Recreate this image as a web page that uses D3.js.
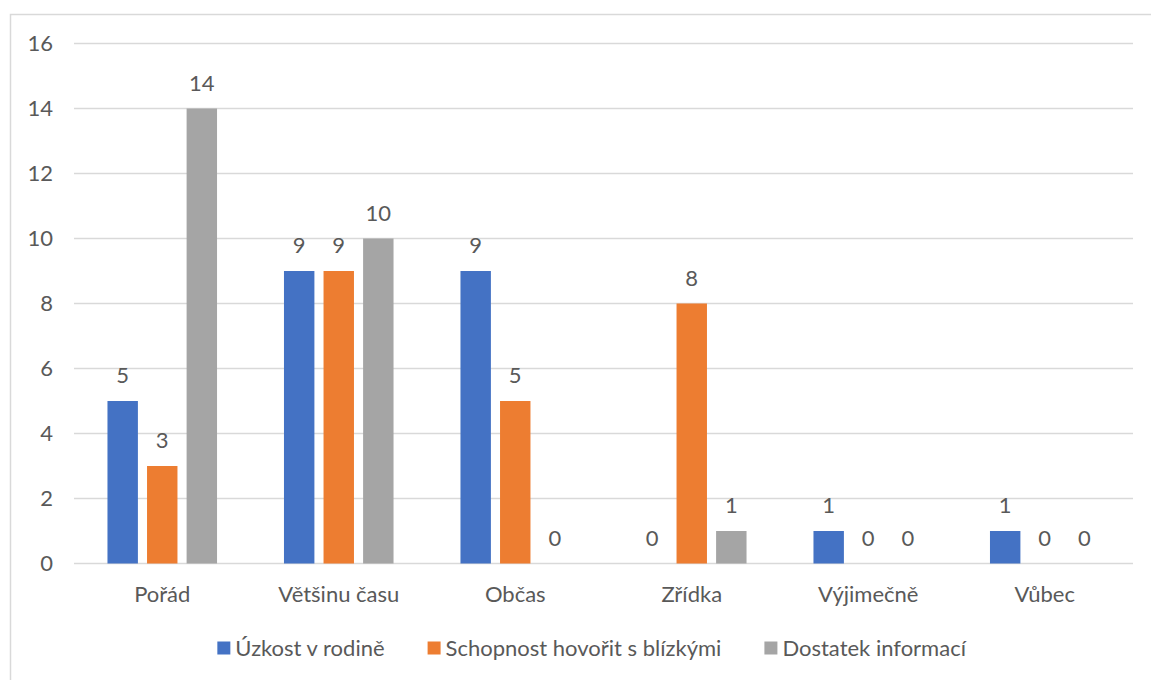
<!DOCTYPE html>
<html>
<head>
<meta charset="utf-8">
<script src="https://cdn.jsdelivr.net/npm/d3@7"></script>
<style>
  html, body { margin: 0; padding: 0; background: #fff; }
  svg { display: block; font-family: Lato, "Open Sans", sans-serif; }
</style>
</head>
<body>
<svg id="chart" width="1151" height="680"></svg>
<script>
// Categories (frequency answers) and the three survey series
const categories = ["Pořád", "Většinu času", "Občas", "Zřídka", "Výjimečně", "Vůbec"];
const seriesNames = ["Úzkost v rodině", "Schopnost hovořit s blízkými", "Dostatek informací"];
const uzkost = [5, 9, 9, 0, 1, 1];
const schopnost = [3, 9, 5, 8, 0, 0];
const dostatek = [14, 10, 0, 1, 0, 0];
const yTicks = [0, 2, 4, 6, 8, 10, 12, 14, 16];
const colors = ["#4472C4", "#ED7D31", "#A5A5A5"];

const seriesValues = [uzkost, schopnost, dostatek];
const textColor = "#595959";
const gridColor = "#D9D9D9";
const fontSize = 22;

const svg = d3.select("#chart");

// Outer chart frame
svg.append("path")
  .attr("d", "M10.5,680 V14.5 H1151")
  .attr("fill", "none")
  .attr("stroke", gridColor)
  .attr("stroke-width", 1.5);

const plot = { left: 74, right: 1133, top: 43.5, bottom: 563.5 };

const y = d3.scaleLinear().domain([0, 16]).range([plot.bottom, plot.top]);
const x0 = d3.scaleBand().domain(categories).range([plot.left, plot.right]).padding(0);
const x1 = d3.scaleBand().domain(seriesNames).range([0, x0.bandwidth()])
  .paddingInner(0.2308).paddingOuter(0.846);

// Horizontal gridlines
svg.append("g").selectAll("line").data(yTicks).join("line")
  .attr("x1", plot.left).attr("x2", plot.right)
  .attr("y1", d => y(d)).attr("y2", d => y(d))
  .attr("stroke", gridColor).attr("stroke-width", 1.5);

// Y axis labels
const yAxis = d3.axisLeft(y).tickValues(yTicks).tickSize(0).tickPadding(0);
const yg = svg.append("g").attr("transform", `translate(${plot.left - 21},0)`).call(yAxis);
yg.select(".domain").remove();
yg.selectAll("text").attr("fill", textColor).attr("font-size", fontSize).attr("font-family", "Lato");

// X axis labels
const xAxis = d3.axisBottom(x0).tickSize(0).tickPadding(0);
const xg = svg.append("g").attr("transform", `translate(0,${plot.bottom + 23})`).call(xAxis);
xg.select(".domain").remove();
xg.selectAll("text").attr("fill", textColor).attr("font-size", fontSize).attr("font-family", "Lato");

// Bars and value labels
const rows = categories.map((c, i) => ({
  cat: c,
  vals: seriesNames.map((s, j) => ({ s, j, v: seriesValues[j][i] }))
}));

const groups = svg.append("g").selectAll("g").data(rows).join("g")
  .attr("transform", d => `translate(${x0(d.cat)},0)`);

groups.selectAll("rect").data(d => d.vals).join("rect")
  .attr("x", d => x1(d.s))
  .attr("y", d => y(d.v))
  .attr("width", x1.bandwidth())
  .attr("height", d => y(0) - y(d.v))
  .attr("fill", d => colors[d.j]);

groups.selectAll("text").data(d => d.vals).join("text")
  .attr("x", d => x1(d.s) + x1.bandwidth() / 2)
  .attr("y", d => y(d.v) - 18)
  .attr("text-anchor", "middle")
  .attr("fill", textColor)
  .attr("font-size", fontSize)
  .text(d => d.v);

// Legend, centred under the plot
const legend = svg.append("g");
const items = legend.selectAll("g").data(seriesNames).join("g");
items.append("rect").attr("width", 13).attr("height", 13).attr("y", -6.5)
  .attr("fill", (d, i) => colors[i]);
items.append("text").attr("x", 18).attr("dy", "0.35em")
  .attr("fill", textColor).attr("font-size", fontSize).text(d => d);
let cx = 0;
items.each(function () {
  const w = this.getBBox().width;
  d3.select(this).attr("transform", `translate(${cx},0)`);
  cx += w + 43;
});
const total = cx - 43;
legend.attr("transform", `translate(${592 - total / 2},648)`);
</script>
</body>
</html>
